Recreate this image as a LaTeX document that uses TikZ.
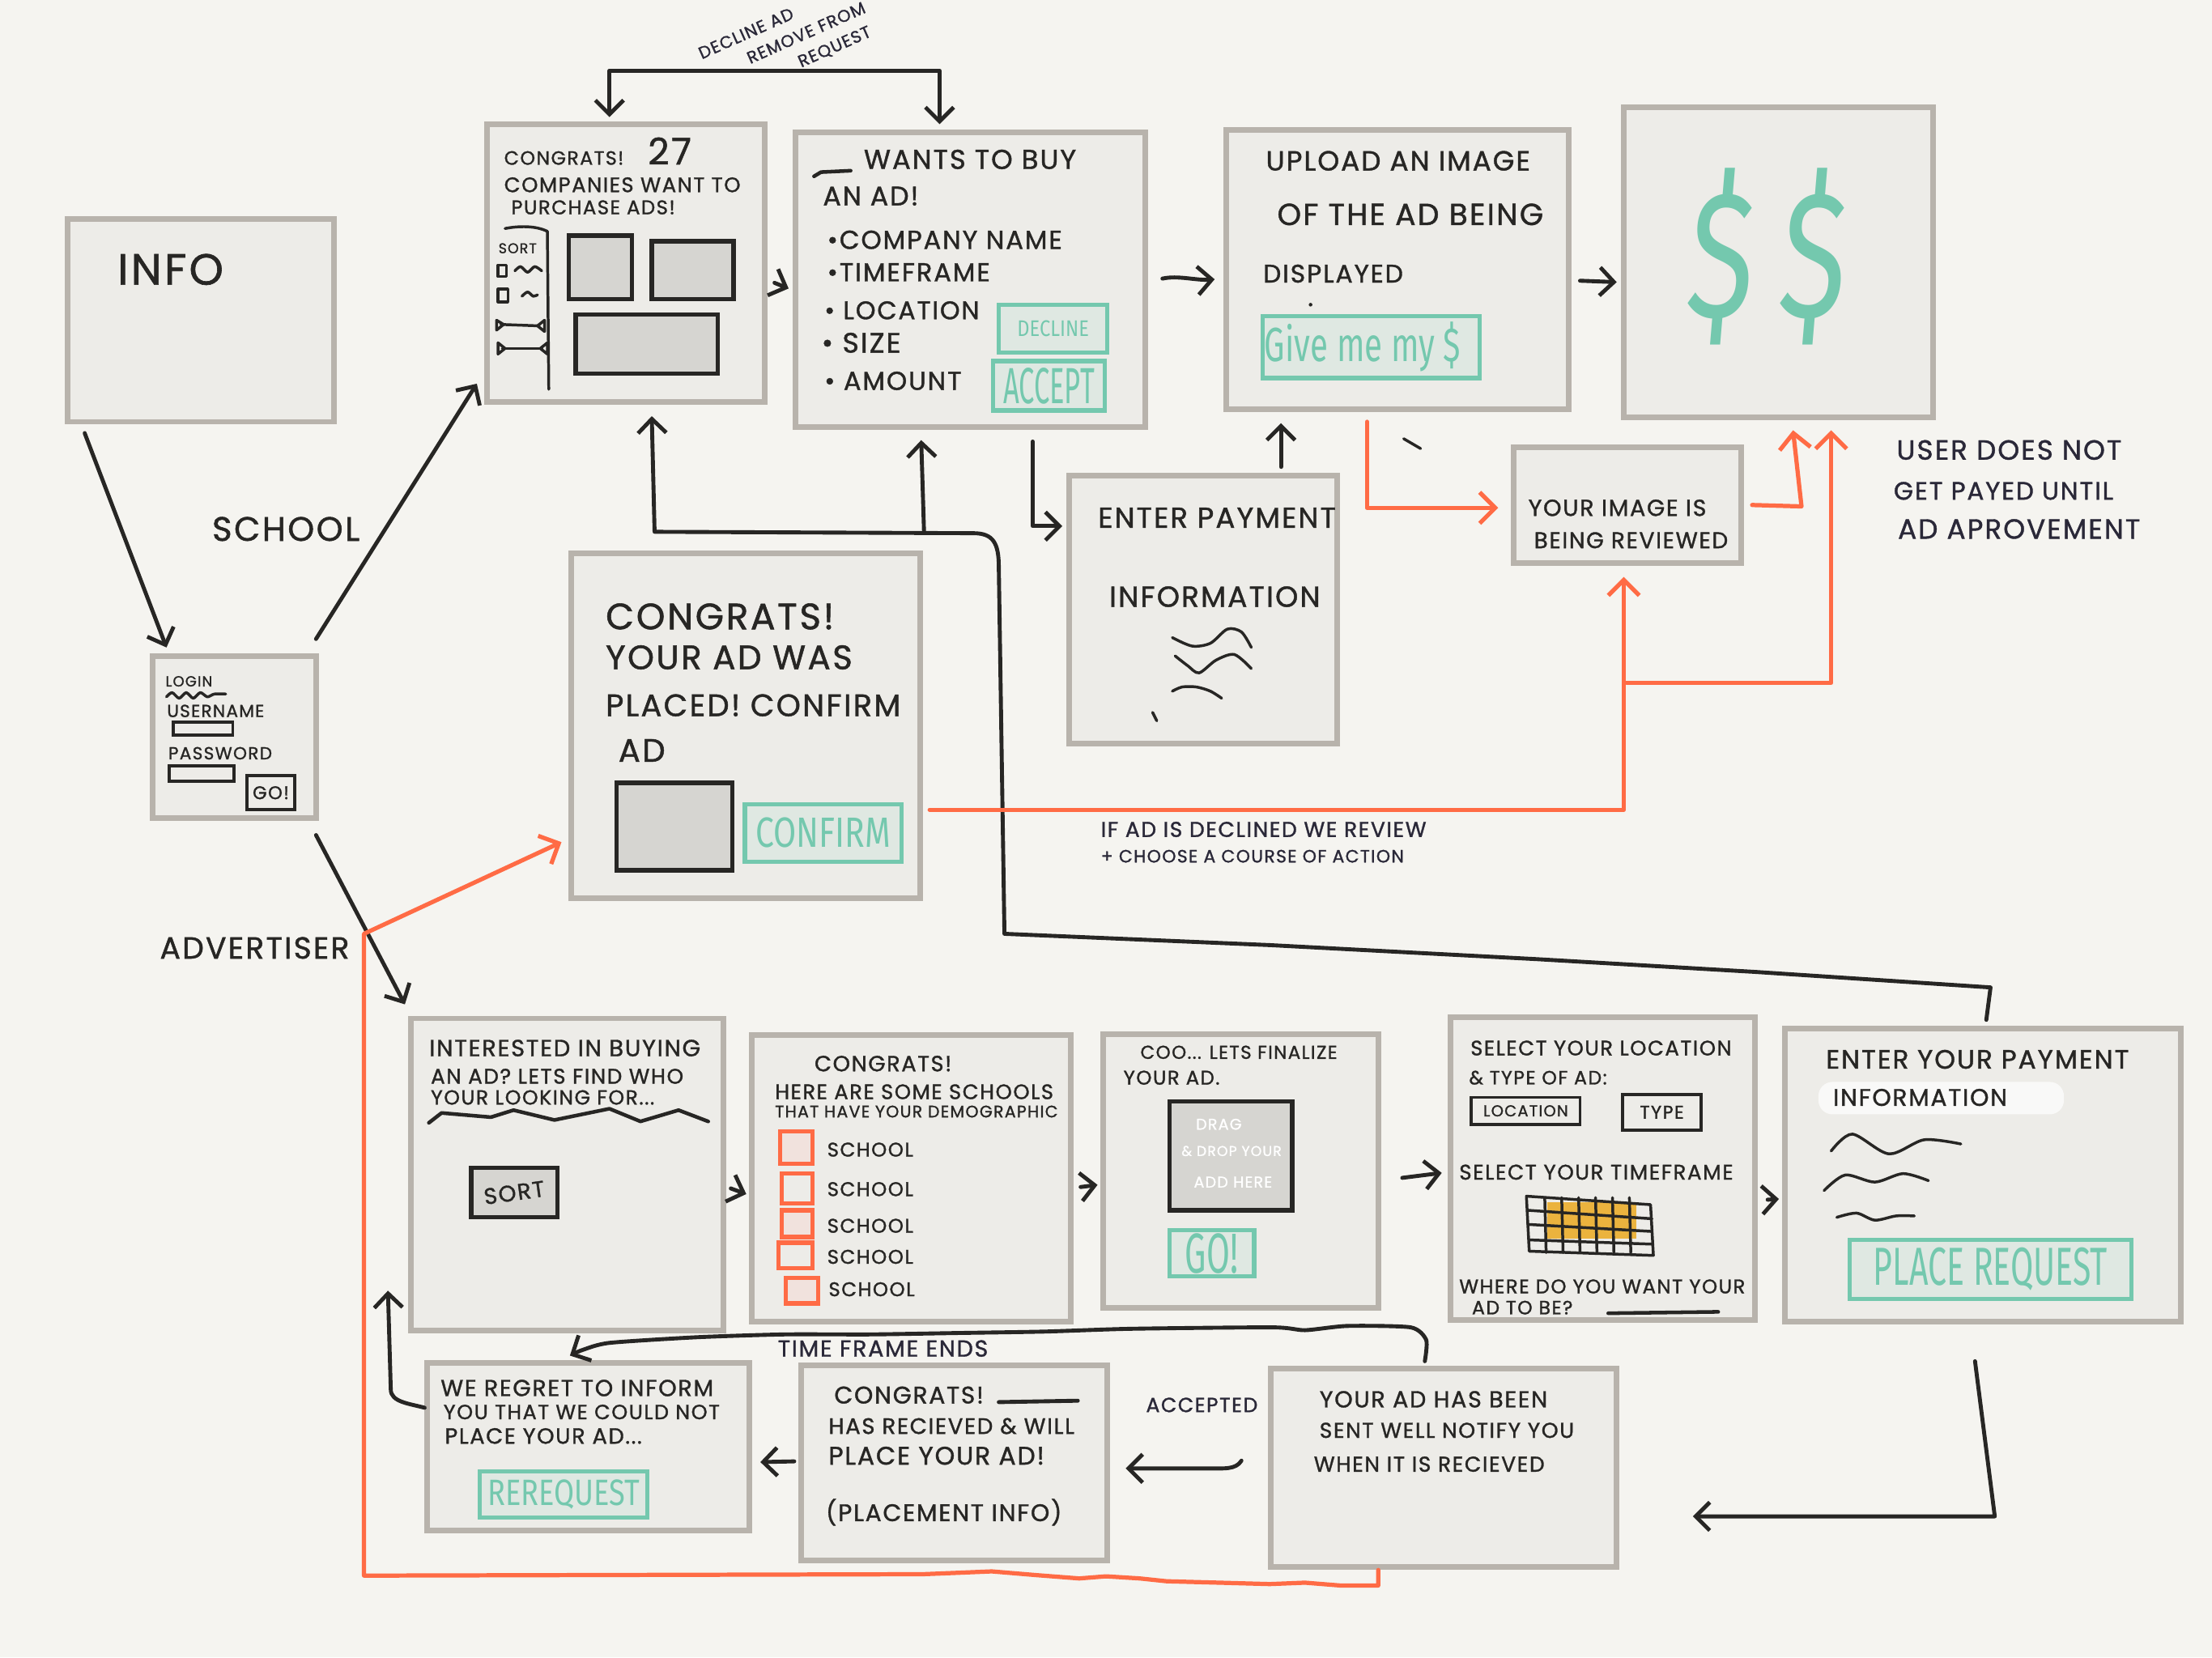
\documentclass[tikz,border=0pt]{standalone}
\usepackage{fontspec}
\usetikzlibrary{arrows.meta,fit,calc}
\newfontfamily\handf[LetterSpace=6,FakeBold=1.2]{Poppins}
\newfontfamily\btnf{Fira Sans}
\newfontfamily\dolf[FakeSlant=0.12]{Fira Sans}
\newcommand{\hf}[1]{\handf\fontsize{#1}{#1}\selectfont}
\newcommand{\bt}[3]{\scalebox{#1}[1]{\btnf\fontsize{#2}{#2}\selectfont #3}}
\definecolor{bg}{HTML}{F5F4F0}
\definecolor{boxfill}{HTML}{EDECE8}
\definecolor{boxline}{HTML}{B8B3AC}
\definecolor{phfill}{HTML}{D6D5D1}
\definecolor{ink}{HTML}{272624}
\definecolor{navy}{HTML}{2A2838}
\definecolor{tealc}{HTML}{74C8AE}
\definecolor{tealfill}{HTML}{DFE8E2}
\definecolor{orng}{HTML}{FF6B45}
\definecolor{cbfill}{HTML}{F1E2DD}
\definecolor{yel}{HTML}{EBB33E}
\begin{document}
\begin{tikzpicture}[x=0.5pt,y=-0.5pt,
  conn/.style={draw=ink, line width=1.4pt, line cap=round, line join=round},
  arr/.style={conn, -{Straight Barb[length=5pt,width=10pt]}},
  oconn/.style={draw=orng, line width=1.5pt, line cap=round, line join=round},
  oarr/.style={oconn, -{Straight Barb[length=5.5pt,width=11pt]}},
  screen/.style={draw=boxline, fill=boxfill, line width=2pt, inner sep=0pt, rectangle},
  ph/.style={draw=ink, fill=phfill, line width=1.5pt, inner sep=0pt, rectangle},
  tbtn/.style={draw=tealc, fill=tealfill, line width=1.5pt, inner sep=0pt, rectangle},
  btxt/.style={inner sep=0pt, text=tealc},
  ctxt/.style={inner sep=0pt, text=ink},
  fld/.style={draw=ink, line width=1.1pt, inner sep=0pt, rectangle},
  cb/.style={draw=orng, line width=1.5pt, inner sep=0pt, rectangle},
  sk/.style={draw=ink, line width=1pt, line cap=round, line join=round},
  txt/.style={inner sep=0pt, anchor=west, text=ink},
  lbl/.style={inner sep=0pt, anchor=west, text=navy},
  wtxt/.style={inner sep=0pt, text=white}]
\fill[bg] (0,0) rectangle (1568,1175);
\useasboundingbox (0,0) rectangle (1568,1175);

% ---------- screens ----------
\node[screen, fit={(48,155)(237,299)}] (info) {};
\node[screen, fit={(345,88)(542,285)}] (c27) {};
\node[screen, fit={(564,94)(812,303)}] (wtb) {};
\node[screen, fit={(869,92)(1112,290)}] (upl) {};
\node[screen, fit={(1151,76)(1370,296)}] (dol) {};
\node[screen, fit={(108,465)(224,580)}] (login) {};
\node[screen, fit={(405,392)(652,637)}] (cp) {};
\node[screen, fit={(758,337)(948,527)}] (ep) {};
\node[screen, fit={(1073,317)(1234,399)}] (ir) {};
\node[screen, fit={(291,722)(513,943)}] (int) {};
\node[screen, fit={(533,734)(759,937)}] (sch) {};
\node[screen, fit={(782,733)(977,927)}] (fin) {};
\node[screen, fit={(1028,721)(1244,936)}] (sel) {};
\node[screen, fit={(1265,729)(1546,937)}] (eyp) {};
\node[screen, fit={(303,966)(531,1085)}] (reg) {};
\node[screen, fit={(568,968)(785,1106)}] (rec) {};
\node[screen, fit={(901,970)(1146,1111)}] (sent) {};

% ---------- info ----------
\node[txt] (infoT) at (83,191) {\hf{15.5}INFO};

% ---------- congrats 27 ----------
\node[txt] (c27a) at (357,112) {\hf{6.8}CONGRATS!};
\node[txt] (c27b) at (459,107) {\hf{13}27};
\node[txt] (c27c) at (357,131) {\hf{7.4}COMPANIES WANT TO};
\node[txt] (c27d) at (362,147) {\hf{7}PURCHASE ADS!};
\node[txt] (c27s) at (353,176) {\hf{5}SORT};
\draw[sk] (358,162) .. controls (368,160) and (380,160) .. (388,164);
\draw[sk] (388,164) -- (389,276);
\draw[sk] (353,188) rectangle (359,196);
\draw[sk] plot[smooth] coordinates {(365,192)(369,189)(374,193)(379,189)(384,192)};
\draw[sk] (353,205) rectangle (360,214);
\draw[sk] plot[smooth] coordinates {(370,210)(374,207)(378,210)(381,209)};
\draw[sk] (355,230) -- (382,231);
\draw[sk] (352,227) -- (357,230) -- (352,234) -- cycle;
\draw[sk] (386,227) -- (381,231) -- (386,235) -- cycle;
\draw[sk] (356,247) -- (384,247);
\draw[sk] (353,243) -- (358,247) -- (353,251) -- cycle;
\draw[sk] (388,243) -- (383,247) -- (388,251) -- cycle;
\node[ph, fit={(403,167)(448,212)}] (c27p1) {};
\node[ph, fit={(462,171)(520,212)}] (c27p2) {};
\node[ph, fit={(408,223)(509,265)}] (c27p3) {};

% ---------- wants to buy ----------
\draw[sk, line width=1.3pt] (577,125) -- (582,122) -- (603,121);
\node[txt] (wtbA) at (612,113) {\hf{9.7}WANTS TO BUY};
\node[txt] (wtbB) at (583,139) {\hf{9.5}AN AD!};
\node[txt] (wtbC) at (586,170) {\hf{9.2}\textbullet COMPANY NAME};
\node[txt] (wtbD) at (586,193) {\hf{9.2}\textbullet TIMEFRAME};
\node[txt] (wtbE) at (584,220) {\hf{9}\textbullet{} LOCATION};
\node[txt] (wtbF) at (582,243) {\hf{10}\textbullet{} SIZE};
\node[txt] (wtbG) at (584,270) {\hf{9.2}\textbullet{} AMOUNT};
\node[tbtn, fit={(708,216)(785,250)}] (dec) {};
\node[btxt] (decT) at (dec.center) {\bt{0.85}{8}{DECLINE}};
\node[tbtn, fit={(704,256)(783,291)}] (acc) {};
\node[btxt] (accT) at (acc.center) {\bt{0.55}{18}{ACCEPT}};

% ---------- upload ----------
\node[txt] (uplA) at (897,114) {\hf{9.8}UPLOAD AN IMAGE};
\node[txt] (uplB) at (905,152) {\hf{10.8}OF THE AD BEING};
\node[txt] (uplC) at (895,194) {\hf{9}DISPLAYED};
\fill[ink] (929,216) circle (1.3);
\node[tbtn, fit={(895,224)(1049,268)}] (give) {};
\node[btxt] (giveT) at ($(give.center)+(-6,0)$) {\bt{0.68}{17}{Give me my \$}};

% ---------- $$ ----------
\node[inner sep=0pt, text=tealc] (dolT) at (1250,182) {\scalebox{0.7}[1]{\dolf\fontsize{64}{64}\selectfont\$\hspace{13pt}\$}};

% ---------- login ----------
\node[txt] (logA) at (117,483) {\hf{5.2}LOGIN};
\draw[sk] plot[smooth] coordinates {(118,494)(122,491)(127,495)(132,491)(137,495)(142,491)(147,494)(152,492)(160,492)};
\node[txt] (logB) at (118,504) {\hf{6.2}USERNAME};
\node[fld, fit={(123,512)(165,521)}] (logF1) {};
\node[txt] (logC) at (119,534) {\hf{6.2}PASSWORD};
\node[fld, fit={(120,543)(166,554)}] (logF2) {};
\node[fld, fit={(175,550)(209,574)}] (logGo) {};
\node[ctxt] (logGoT) at (logGo.center) {\hf{6.5}GO!};

\node[txt] (lschool) at (150,375) {\hf{12}SCHOOL};
\node[txt] (ladv) at (113,672) {\hf{10.8}ADVERTISER};

% ---------- congrats placed ----------
\node[txt] (cpA) at (429,437) {\hf{13}CONGRATS!};
\node[txt] (cpB) at (429,466) {\hf{12}YOUR AD WAS};
\node[txt] (cpC) at (429,500) {\hf{11}PLACED! CONFIRM};
\node[txt] (cpD) at (438,532) {\hf{11.5}AD};
\node[ph, fit={(437,555)(519,617)}] (cpP) {};
\node[tbtn, fit={(528,570)(639,611)}] (cpBtn) {};
\node[btxt] (cpBtnT) at (cpBtn.center) {\bt{0.78}{15}{CONFIRM}};

% ---------- enter payment ----------
\node[txt] (epA) at (778,367) {\hf{10.2}ENTER PAYMENT};
\node[txt] (epB) at (786,423) {\hf{10.3}INFORMATION};
\draw[sk] plot[smooth] coordinates {(831,452)(845,458)(858,456)(870,446)(880,448)(887,459)};
\draw[sk] plot[smooth] coordinates {(833,465)(842,472)(850,477)(862,468)(875,464)(887,474)};
\draw[sk] plot[smooth] coordinates {(831,490)(838,487)(848,487)(858,490)(866,495)};
\draw[sk] (817,505) -- (820,511);
\draw[sk] (995,311) -- (1007,318);

% ---------- image reviewed ----------
\node[txt] (irA) at (1083,360) {\hf{8.2}YOUR IMAGE IS};
\node[txt] (irB) at (1087,383) {\hf{8}BEING REVIEWED};

\node[lbl] (usA) at (1344,319) {\hf{9.8}USER DOES NOT};
\node[lbl] (usB) at (1342,348) {\hf{8.9}GET PAYED UNTIL};
\node[lbl] (usC) at (1345,375) {\hf{9.8}AD APROVEMENT};

\node[inner sep=0pt, text=navy, rotate=24, align=left, font={\handf\fontsize{6}{8.5}\selectfont}] (dl) at (558,30)
  {DECLINE AD\\\hspace*{15pt}REMOVE FROM\\\hspace*{31pt}REQUEST};

\node[lbl] (ifA) at (780,588) {\hf{7.6}IF AD IS DECLINED WE REVIEW};
\node[lbl] (ifB) at (780,607) {\hf{6.3}+ CHOOSE A COURSE OF ACTION};

% ---------- interested ----------
\node[txt] (intA) at (304,743) {\hf{8.3}INTERESTED IN BUYING};
\node[txt] (intB) at (305,763) {\hf{7.5}AN AD? LETS FIND WHO};
\node[txt] (intC) at (305,778) {\hf{7.2}YOUR LOOKING FOR...};
\draw[sk, line width=1.3pt] (304,796) -- (313,789) -- (348,792) -- (364,787) -- (393,794) -- (432,786) -- (454,795) -- (481,787) -- (502,795);
\node[ph, fit={(334,828)(395,863)}] (intS) {};
\node[ctxt, rotate=8] (intST) at (intS.center) {\hf{8}SORT};

% ---------- schools ----------
\node[txt] (schA) at (577,754) {\hf{7.8}CONGRATS!};
\node[txt] (schB) at (549,774) {\hf{7.4}HERE ARE SOME SCHOOLS};
\node[txt] (schC) at (549,788) {\hf{5.9}THAT HAVE YOUR DEMOGRAPHIC};
\node[cb, fill=cbfill, fit={(553,802)(576,825)}] (cb1) {};
\node[cb, fit={(554,832)(576,853)}] (cb2) {};
\node[cb, fill=cbfill, fit={(554,858)(576,877)}] (cb3) {};
\node[cb, fit={(552,881)(576,899)}] (cb4) {};
\node[cb, fill=cbfill, fit={(557,906)(580,924)}] (cb5) {};
\node[txt] (sch1) at (586,815) {\hf{7}SCHOOL};
\node[txt] (sch2) at (586,843) {\hf{7}SCHOOL};
\node[txt] (sch3) at (586,869) {\hf{7}SCHOOL};
\node[txt] (sch4) at (586,891) {\hf{7}SCHOOL};
\node[txt] (sch5) at (587,914) {\hf{7}SCHOOL};

% ---------- finalize ----------
\node[txt] (finA) at (808,746) {\hf{6.6}COO... LETS FINALIZE};
\node[txt] (finB) at (796,764) {\hf{7}YOUR AD.};
\node[ph, fit={(829,781)(916,858)}] (finP) {};
\node[wtxt] (finD1) at (864,797) {\hf{5.5}DRAG};
\node[wtxt] (finD2) at (873,816) {\hf{5}\& DROP YOUR};
\node[wtxt] (finD3) at (874,838) {\hf{5.5}ADD HERE};
\node[tbtn, fit={(829,872)(889,905)}] (finGo) {};
\node[btxt] (finGoT) at (finGo.center) {\bt{0.6}{20}{GO!}};

% ---------- select ----------
\node[txt] (selA) at (1042,743) {\hf{7.4}SELECT YOUR LOCATION};
\node[txt] (selB) at (1041,764) {\hf{6.8}\& TYPE OF AD:};
\node[fld, fit={(1043,778)(1120,797)}] (selL) {};
\node[ctxt] (selLT) at (selL.center) {\hf{5.6}LOCATION};
\node[fld, fit={(1150,776)(1206,801)}] (selT) {};
\node[ctxt] (selTT) at (selT.center) {\hf{6.5}TYPE};
\node[txt] (selC) at (1034,831) {\hf{7.5}SELECT YOUR TIMEFRAME};
\fill[yel] (1097,852) rectangle (1160,878);
\draw[sk] (1082,848) -- (1170,854) -- (1172,890) -- (1084,887) -- cycle;
\draw[sk] (1083,858) -- (1171,864);
\draw[sk] (1083,868) -- (1171,873);
\draw[sk] (1084,879) -- (1171,882);
\foreach \gx in {1095,1107,1119,1131,1143,1155} {\draw[sk] (\gx,849) -- (\gx+1,888);}
\node[txt] (selD) at (1034,912) {\hf{7}WHERE DO YOU WANT YOUR};
\node[txt] (selE) at (1043,927) {\hf{6.8}AD TO BE?};
\draw[sk, line width=1.3pt] (1140,931) -- (1218,930);

% ---------- enter your payment ----------
\fill[white, opacity=0.7, rounded corners=5pt] (1289,767) rectangle (1463,790);
\node[txt] (eypA) at (1294,751) {\hf{9.4}ENTER YOUR PAYMENT};
\node[txt] (eypB) at (1299,778) {\hf{8.5}INFORMATION};
\draw[sk] plot[smooth] coordinates {(1298,816)(1313,804)(1339,818)(1364,808)(1390,811)};
\draw[sk] plot[smooth] coordinates {(1293,844)(1308,833)(1329,838)(1349,832)(1367,837)};
\draw[sk] plot[smooth] coordinates {(1302,863)(1316,860)(1329,865)(1344,862)(1357,862)};
\node[tbtn, fit={(1311,879)(1511,921)}] (eypBtn) {};
\node[btxt] (eypBtnT) at (eypBtn.center) {\bt{0.62}{19}{PLACE REQUEST}};

% ---------- we regret ----------
\node[txt] (regA) at (312,984) {\hf{8.2}WE REGRET TO INFORM};
\node[txt] (regB) at (314,1001) {\hf{7.3}YOU THAT WE COULD NOT};
\node[txt] (regC) at (315,1018) {\hf{7.8}PLACE YOUR AD...};
\node[tbtn, fit={(340,1043)(459,1076)}] (regBtn) {};
\node[btxt] (regBtnT) at (regBtn.center) {\bt{0.8}{13}{REREQUEST}};

% ---------- received ----------
\node[txt] (recA) at (591,989) {\hf{8.5}CONGRATS!};
\draw[sk, line width=1.4pt] (708,994) -- (764,993);
\node[txt] (recB) at (587,1011) {\hf{7.9}HAS RECIEVED \& WILL};
\node[txt] (recC) at (587,1032) {\hf{9}PLACE YOUR AD!};
\node[txt] (recD) at (585,1072) {\hf{8.5}(PLACEMENT INFO)};

% ---------- sent ----------
\node[txt] (sentA) at (935,992) {\hf{8.2}YOUR AD HAS BEEN};
\node[txt] (sentB) at (935,1014) {\hf{7.6}SENT WELL NOTIFY YOU};
\node[txt] (sentC) at (931,1038) {\hf{7.6}WHEN IT IS RECIEVED};

\node[lbl] (ltf) at (551,956) {\hf{8.2}TIME FRAME ENDS};
\node[lbl] (lacc) at (812,996) {\hf{7.2}ACCEPTED};

% ---------- black connectors ----------
\draw[arr] ($(info.south west)+(14,6)$) -- ($(login.north west)+(12,-4)$);
\draw[arr] ($(login.north east)+(-2,-10)$) -- ($(c27.south west)+(-5,-15)$);
\draw[arr] ($(login.south east)+(-2,10)$) -- ($(int.north west)+(-2,-8)$);
\draw[conn, {Straight Barb[length=5pt,width=10pt]}-{Straight Barb[length=5pt,width=10pt]}]
  ($(c27.north west)+(89,-3)$) -- ++(0,-33) -| ($(wtb.north west)+(104,-4)$);
\draw[arr] ($(c27.east)+(5,14)$) -- ($(wtb.west)+(-3,6)$);
\draw[arr] ($(wtb.east)+(10,-1)$) .. controls (835,195) and (848,199) .. ($(upl.west)+(-6,7)$);
\draw[arr] ($(upl.east)+(6,8)$) -- ($(dol.west)+(-3,14)$);
\draw[arr] ($(ep.north west)+(152,-4)$) -- ($(upl.south west)+(41,8)$);
\draw[arr] ($(wtb.south west)+(170,8)$) |- ($(ep.north west)+(-3,38)$);
\coordinate (j1) at (1411,700);
\coordinate (j5) at (655,377);
\draw[arr] ($(eyp.north west)+(145,-4)$) -- (j1) -- (1244,689) -- (1090,680) -- (900,670) -- (712,662)
  -- (708,402) .. controls (708,385) and (704,378) .. (690,378) -- (464,377) -- ($(c27.south west)+(119,8)$);
\draw[arr] (j5) -- ($(wtb.south west)+(91,7)$);
\coordinate (k2) at (1200,1075);
\draw[arr] ($(eyp.south west)+(137,26)$) -- (1414,1075) -- (k2);
\draw[arr] ($(sent.west)+(-19,-5)$) .. controls (876,1042) and (868,1041) .. (855,1041) -- ($(rec.east)+(11,4)$);
\draw[arr] ($(rec.west)+(-3,-1)$) -- ($(reg.east)+(6,11)$);
\coordinate (n0) at ($(sent.north west)+(111,-3)$);
\coordinate (n9) at ($(reg.north west)+(103,-3)$);
\draw[arr] plot[smooth, tension=0.4] coordinates {(n0) (1011,950) (1000,941) (955,940) (925,943) (902,941) (802,942) (740,944) (679,945) (617,946) (556,946) (494,948) (432,952) (413,957) (n9)};
\draw[arr] ($(reg.north west)+(0,34)$) .. controls (290,995) and (277,994) .. (277,985) -- ($(int.south west)+(-14,-30)$);
\draw[arr] ($(int.east)+(3,10)$) -- ($(sch.west)+(-2,11)$);
\draw[arr] ($(sch.east)+(5,6)$) -- ($(fin.west)+(-2,10)$);
\draw[arr] ($(fin.east)+(15,5)$) -- ($(sel.west)+(-4,3)$);
\draw[arr] ($(sel.east)+(7,22)$) -- ($(eyp.west)+(-2,17)$);

% ---------- orange connectors ----------
\coordinate (q0) at (977,1113);
\draw[oarr] (q0) -- (977,1124) -- (950,1124) -- (925,1122) -- (900,1123) -- (864,1122) -- (827,1121) -- (808,1119)
  -- (784,1117.5) -- (765,1119) -- (734,1116.6) -- (703,1114) -- (679,1115) -- (654,1116) -- (258,1117)
  -- (258,662) -- ($(cp.south west)+(-5,-42)$);
\draw[oarr] ($(cp.south east)+(5,-65)$) -| ($(ir.south west)+(80,8)$);
\coordinate (r1) at (1153,484);
\draw[oarr] (r1) -| ($(dol.south west)+(149,7)$);
\draw[oarr] ($(upl.south west)+(102,7)$) |- ($(ir.north west)+(-9,45)$);
\draw[oarr] ($(ir.north east)+(6,43)$) -- (1277,359) -- ($(dol.south west)+(122,7)$);
\end{tikzpicture}
\end{document}
